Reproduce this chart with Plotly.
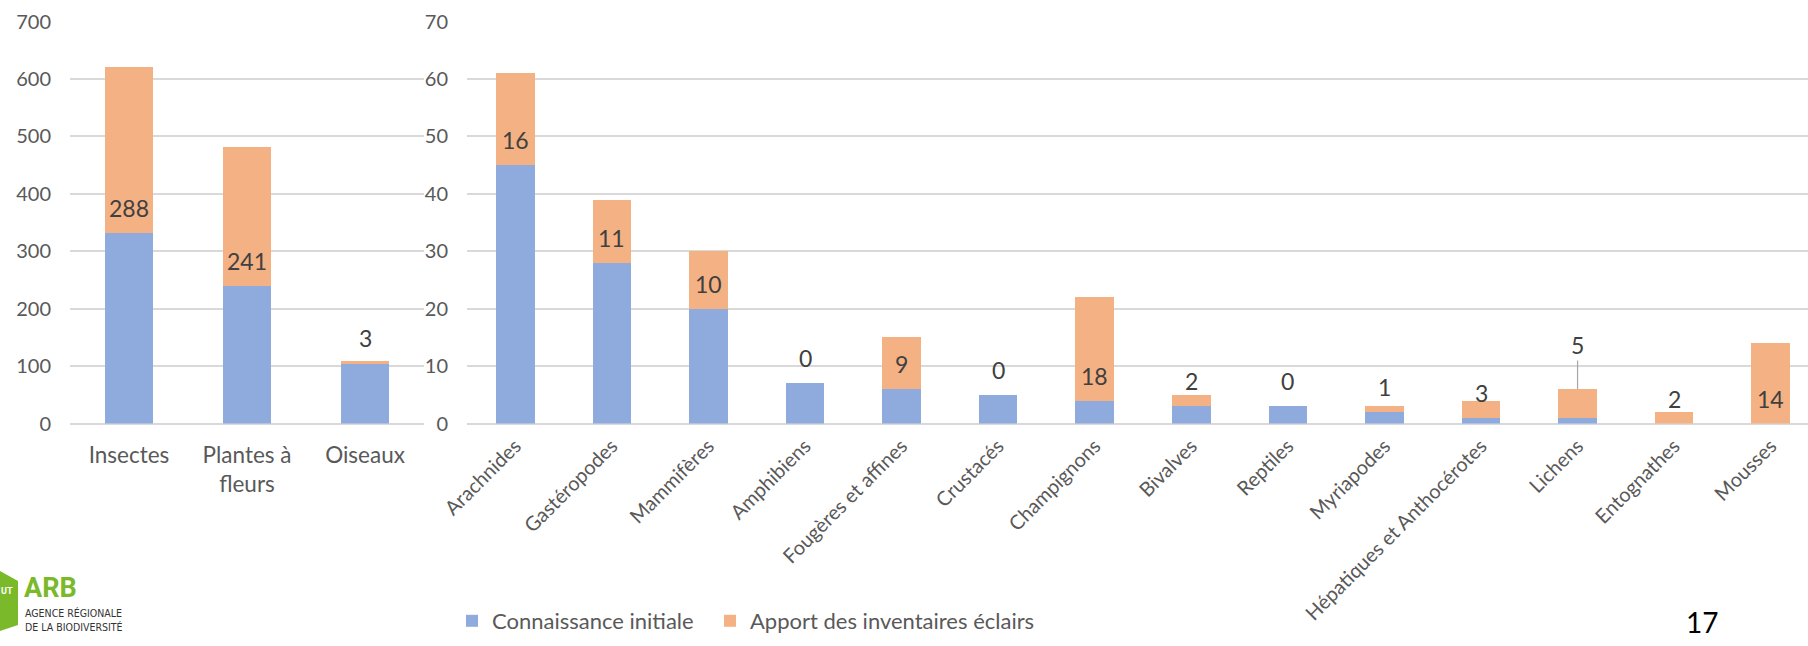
import plotly.graph_objects as go

# ---- data ----
left_categories = ["Insectes", "Plantes à<br>fleurs", "Oiseaux"]
left_initial = [332, 240, 106]
left_added = [288, 241, 3]

right_categories = ["Arachnides", "Gastéropodes", "Mammifères", "Amphibiens",
                    "Fougères et affines", "Crustacés", "Champignons", "Bivalves",
                    "Reptiles", "Myriapodes", "Hépatiques et Anthocérotes",
                    "Lichens", "Entognathes", "Mousses"]
right_initial = [45, 28, 20, 7, 6, 5, 4, 3, 3, 2, 1, 1, 0, 0]
right_added = [16, 11, 10, 0, 9, 0, 18, 2, 0, 1, 3, 5, 2, 14]

left_ticks = [0, 100, 200, 300, 400, 500, 600, 700]
right_ticks = [0, 10, 20, 30, 40, 50, 60, 70]

series_names = ["Connaissance initiale", "Apport des inventaires éclairs"]
page_number = "17"

# ---- style ----
W, H = 1808, 646
BLUE = "#8FAADC"
ORANGE = "#F4B183"
GRID = "#D9D9D9"
AXIS_TXT = "#595959"
LABEL_TXT = "#404040"
FONT = "Lato, Calibri, Carlito, sans-serif"

def px_x(p):
    return p / W

def px_y(p):
    return (H - p) / H

fig = go.Figure()

# left chart
fig.add_trace(go.Bar(x=left_categories, y=left_initial, name=series_names[0],
                     marker=dict(color=BLUE, line=dict(width=0)), width=0.4,
                     xaxis="x", yaxis="y", legendgroup="a", showlegend=True,
                     legendwidth=213, hoverinfo="x+y"))
fig.add_trace(go.Bar(x=left_categories, y=left_added, name=series_names[1],
                     marker=dict(color=ORANGE, line=dict(width=0)), width=0.4,
                     xaxis="x", yaxis="y", legendgroup="b", showlegend=True,
                     legendwidth=320, hoverinfo="x+y"))
# right chart
fig.add_trace(go.Bar(x=right_categories, y=right_initial, name=series_names[0],
                     marker=dict(color=BLUE, line=dict(width=0)), width=0.4,
                     xaxis="x2", yaxis="y2", legendgroup="a", showlegend=False,
                     hoverinfo="x+y"))
fig.add_trace(go.Bar(x=right_categories, y=right_added, name=series_names[1],
                     marker=dict(color=ORANGE, line=dict(width=0)), width=0.4,
                     xaxis="x2", yaxis="y2", legendgroup="b", showlegend=False,
                     hoverinfo="x+y"))

annotations = []
LBL_SHIFT = 25
for cat, base, val in zip(left_categories, left_initial, left_added):
    annotations.append(dict(x=cat, y=base, xref="x", yref="y", text=str(val),
                            showarrow=False, yshift=LBL_SHIFT,
                            font=dict(family=FONT, size=23, color=LABEL_TXT)))
for cat, base, val in zip(right_categories, right_initial, right_added):
    if cat == "Lichens":
        annotations.append(dict(x=cat, y=base + val, xref="x2", yref="y2", text=str(val),
                                showarrow=True, ax=0, ay=-44, arrowhead=0,
                                arrowwidth=1.2, arrowcolor="#A6A6A6", standoff=0,
                                font=dict(family=FONT, size=23, color=LABEL_TXT)))
    else:
        annotations.append(dict(x=cat, y=base, xref="x2", yref="y2", text=str(val),
                                showarrow=False, yshift=LBL_SHIFT,
                                font=dict(family=FONT, size=23, color=LABEL_TXT)))

# page number
annotations.append(dict(x=px_x(1702), y=px_y(622), xref="paper", yref="paper",
                        xanchor="center", yanchor="middle",
                        text=page_number, showarrow=False,
                        font=dict(family=FONT, size=28, color="#000000")))
# logo texts
annotations.append(dict(x=px_x(22), y=px_y(588), xref="paper", yref="paper",
                        xanchor="left", yanchor="middle", text="<b>ARB</b>", showarrow=False,
                        font=dict(family="Roboto, sans-serif", size=27, color="#7AB929")))
annotations.append(dict(x=px_x(23), y=px_y(620), xref="paper", yref="paper",
                        xanchor="left", yanchor="middle",
                        text="AGENCE RÉGIONALE<br>DE LA BIODIVERSITÉ", showarrow=False,
                        align="left",
                        font=dict(family="DejaVu Sans Condensed, Roboto, sans-serif",
                                  size=10.5, color="#333333")))
annotations.append(dict(x=px_x(-1), y=px_y(591), xref="paper", yref="paper",
                        xanchor="left", yanchor="middle", text="<b>UT</b>", showarrow=False,
                        font=dict(family="Roboto, sans-serif", size=9, color="#FFFFFF")))

shapes = [dict(type="path", xref="paper", yref="paper",
               path=f"M {px_x(0)},{px_y(571)} L {px_x(18)},{px_y(581)} L {px_x(18)},{px_y(625)} L {px_x(0)},{px_y(631)} Z",
               fillcolor="#7AB929", line=dict(width=0), layer="below")]

ydom = [px_y(423.5), px_y(21.5)]
axis_font = dict(family=FONT, size=20, color=AXIS_TXT)

fig.update_layout(
    width=W, height=H,
    margin=dict(l=0, r=0, t=0, b=0, autoexpand=False),
    paper_bgcolor="white", plot_bgcolor="white",
    barmode="stack",
    font=dict(family=FONT, color=AXIS_TXT),
    showlegend=True,
    legend=dict(orientation="h", x=px_x(452), y=px_y(621), xanchor="left", yanchor="middle",
                font=dict(family=FONT, size=22, color=AXIS_TXT),
                itemwidth=30, traceorder="normal", bgcolor="rgba(0,0,0,0)"),
    xaxis=dict(domain=[px_x(70), px_x(424)], type="category", range=[-0.5, 2.5],
               automargin=False,
               showgrid=False, showline=False, zeroline=False, ticks="",
               tickfont=dict(family=FONT, size=22.5, color=AXIS_TXT), ticklabelstandoff=16),
    yaxis=dict(domain=ydom, range=[0, 700], tickvals=left_ticks, showgrid=True,
               automargin=False,
               gridcolor=GRID, gridwidth=1.5, zeroline=True, zerolinecolor=GRID,
               zerolinewidth=1.5, showline=False, ticks="", tickfont=axis_font,
               ticklabelstandoff=18),
    xaxis2=dict(domain=[px_x(467), 1.0], type="category", range=[-0.5, 13.5 - 11 / 96.6],
                automargin=False,
                anchor="y2", showgrid=False, showline=False, zeroline=False, ticks="",
                tickangle=-45, tickfont=dict(family=FONT, size=20, color=AXIS_TXT),
                ticklabelstandoff=6),
    yaxis2=dict(domain=ydom, range=[0, 70], tickvals=right_ticks, anchor="x2",
                automargin=False,
                showgrid=True, gridcolor=GRID, gridwidth=1.5, zeroline=True,
                zerolinecolor=GRID, zerolinewidth=1.5, showline=False, ticks="",
                tickfont=axis_font, ticklabelstandoff=18),
    annotations=annotations,
    shapes=shapes,
)

fig.write_html("out.html", config={"displayModeBar": False},
               post_script="document.body.style.margin='0';")
